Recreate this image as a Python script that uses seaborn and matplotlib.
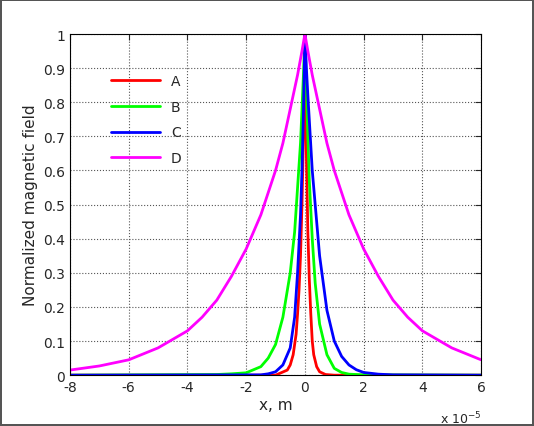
import numpy as np
import pandas as pd
import matplotlib
matplotlib.use('Agg')
import matplotlib.pyplot as plt
import seaborn as sns

# values, x in units of 1e-5 m
x_a = [-8, -1, -0.6, -0.5, -0.4, -0.3, -0.25, -0.2, -0.15, -0.1, -0.05, 0,
       0.05, 0.1, 0.15, 0.2, 0.25, 0.3, 0.4, 0.5, 0.7, 1, 6]
y_a = [0, 0, 0.015, 0.03, 0.06, 0.12, 0.18, 0.25, 0.35, 0.5, 0.7, 1,
       0.65, 0.42, 0.28, 0.18, 0.1, 0.06, 0.025, 0.01, 0.002, 0, 0]

x_b = [-8, -3, -2.5, -2, -1.5, -1.25, -1, -0.75, -0.5, -0.35, -0.25, -0.15, -0.1, -0.05, 0,
       0.05, 0.1, 0.15, 0.25, 0.35, 0.5, 0.75, 1, 1.25, 1.5, 2, 6]
y_b = [0, 0.002, 0.004, 0.007, 0.025, 0.05, 0.09, 0.17, 0.3, 0.42, 0.55, 0.68, 0.78, 0.88, 1,
       0.84, 0.7, 0.57, 0.4, 0.27, 0.15, 0.06, 0.02, 0.008, 0.003, 0.001, 0]

x_c = [-8, -1.5, -1.25, -1, -0.75, -0.5, -0.35, -0.25, -0.15, -0.1, -0.05, 0,
       0.05, 0.1, 0.25, 0.5, 0.75, 1, 1.25, 1.5, 1.75, 2, 2.5, 3, 6]
y_c = [0, 0.001, 0.004, 0.01, 0.03, 0.08, 0.17, 0.3, 0.47, 0.6, 0.77, 1,
       0.9, 0.82, 0.6, 0.35, 0.19, 0.1, 0.055, 0.03, 0.016, 0.008, 0.003, 0.001, 0]

x_d = [-8, -7, -6, -5, -4, -3.5, -3, -2.5, -2, -1.5, -1, -0.75, -0.5, -0.25, -0.1, 0,
       0.1, 0.25, 0.5, 0.75, 1, 1.5, 2, 2.5, 3, 3.5, 4, 5, 6]
y_d = [0.015, 0.027, 0.045, 0.08, 0.13, 0.17, 0.22, 0.29, 0.37, 0.47, 0.6, 0.68, 0.78, 0.88, 0.95, 1,
       0.95, 0.88, 0.78, 0.68, 0.6, 0.47, 0.37, 0.29, 0.22, 0.17, 0.13, 0.08, 0.045]

series = {'A': (x_a, y_a), 'B': (x_b, y_b), 'C': (x_c, y_c), 'D': (x_d, y_d)}
colors = {'A': '#ff0000', 'B': '#00ff00', 'C': '#0000ff', 'D': '#ff00ff'}

rows = []
for name, (xs, ys) in series.items():
    for i, (xv, yv) in enumerate(zip(xs, ys)):
        rows.append({'x': xv * 1e-5, 'y': yv, 'curve': name, 'i': i})
df = pd.DataFrame(rows)

sns.set_style('white')
plt.rcParams['font.family'] = ['DejaVu Sans']

fig = plt.figure(figsize=(5.34, 4.27), dpi=100)
fig.patch.set_edgecolor('#555555')
fig.patch.set_linewidth(1.5)
ax = fig.add_axes([0.131, 0.119, 0.77, 0.799])

sns.lineplot(data=df, x='x', y='y', hue='curve', palette=colors, sort=False,
             units='curve', estimator=None, linewidth=2, ax=ax)

ax.set_xlim(-8e-5, 6e-5)
ax.set_ylim(0, 1)
ax.set_xticks(np.arange(-8, 7, 2) * 1e-5)
ax.set_xticklabels([str(v) for v in range(-8, 7, 2)])
ax.set_yticks(np.arange(0, 1.01, 0.1))
ax.set_yticklabels(['0'] + [f'{v:.1f}' for v in np.arange(0.1, 0.95, 0.1)] + ['1'])
ax.text(1.0, -0.1, 'x 10$^{-5}$', transform=ax.transAxes, ha='right', va='top', fontsize=9)
ax.grid(True, linestyle=':', color='#555555', linewidth=0.8)
ax.tick_params(direction='in', length=4, labelsize=10, top=True, right=True)
for s in ax.spines.values():
    s.set_color('black')
    s.set_linewidth(0.8)
ax.set_xlabel('x, m', fontsize=11, labelpad=2)
ax.set_ylabel('Normalized magnetic field', fontsize=11)

leg = ax.legend(loc='upper left', bbox_to_anchor=(0.07, 0.92), frameon=False,
                handlelength=3.5, labelspacing=0.85, fontsize=10, title=None)

fig.savefig('out.png', dpi=100, edgecolor=fig.get_edgecolor())
